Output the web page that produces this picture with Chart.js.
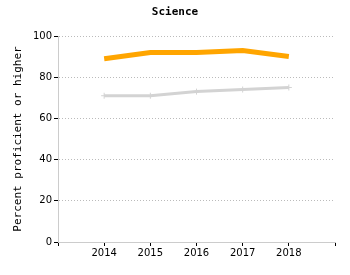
<!DOCTYPE html>
<html>
<head>
<meta charset="utf-8">
<script src="https://cdn.jsdelivr.net/npm/chart.js@4"></script>
<style>
  html, body { margin: 0; padding: 0; background: #fff; }
  #wrap { width: 350px; height: 275px; }
</style>
</head>
<body>
<div id="wrap"><canvas id="scienceChart" width="350" height="275"></canvas></div>
<script>
// chart data
const years = [2014, 2015, 2016, 2017, 2018];
const orangeSeries = [89, 92, 92, 93, 90];
const graySeries = [71, 71, 73, 74, 75];
const yTicks = [0, 20, 40, 60, 80, 100];

const toPoints = vals => vals.map((v, i) => ({ x: years[i], y: v }));

const ctx = document.getElementById("scienceChart");
new Chart(ctx, {
  type: "line",
  data: {
    datasets: [
      {
        label: "Series 1",
        data: toPoints(orangeSeries),
        borderColor: "#ffa500",
        borderWidth: 5,
        pointRadius: 0,
        tension: 0,
      },
      {
        label: "Series 2",
        data: toPoints(graySeries),
        borderColor: "#d3d3d3",
        borderWidth: 3,
        pointStyle: "cross",
        pointRadius: 3,
        pointBorderWidth: 1,
        pointBorderColor: "#d3d3d3",
        tension: 0,
      },
    ],
  },
  options: {
    responsive: false,
    animation: false,
    layout: { padding: 0 },
    plugins: {
      legend: { display: false },
      tooltip: { enabled: false },
      title: {
        display: true,
        text: "Science",
        color: "#000",
        font: { family: "DejaVu Sans Mono", size: 11, weight: "bold", lineHeight: 1.2 },
        padding: { top: 6, bottom: 16.8 },
      },
    },
    scales: {
      x: {
        type: "linear",
        min: years[0] - 1,
        max: years[years.length - 1] + 1,
        afterFit: s => { s.height = 33; },
        ticks: {
          stepSize: 1,
          autoSkip: false,
          maxRotation: 0,
          padding: 1,
          color: "#000",
          font: { family: "DejaVu Sans", size: 10 },
          callback: v => (years.includes(v) ? String(v) : ""),
        },
        grid: { drawOnChartArea: false, tickColor: "#000", tickLength: 4 },
        border: { color: "#ccc", width: 1 },
      },
      y: {
        min: 0,
        max: 100,
        afterFit: s => { s.width = 58; },
        afterBuildTicks: s => { s.ticks = yTicks.map(v => ({ value: v })); },
        ticks: {
          padding: 2,
          color: "#000",
          font: { family: "DejaVu Sans", size: 10 },
        },
        grid: { color: "#bbb", tickColor: "#000", tickLength: 4 },
        border: { color: "#ccc", width: 1, dash: [1, 2] },
        title: {
          display: true,
          text: "Percent proficient or higher",
          color: "#000",
          font: { family: "DejaVu Sans Mono", size: 11, lineHeight: 1.2 },
          padding: { top: 12, bottom: 0 },
        },
      },
      // empty right-hand strip so the title stays centred on the canvas
      yRight: {
        position: "right",
        min: 0,
        max: 100,
        afterFit: s => { s.width = 15; },
        ticks: { display: false },
        grid: { display: false },
        border: { display: false },
      },
    },
  },
});
</script>
</body>
</html>
